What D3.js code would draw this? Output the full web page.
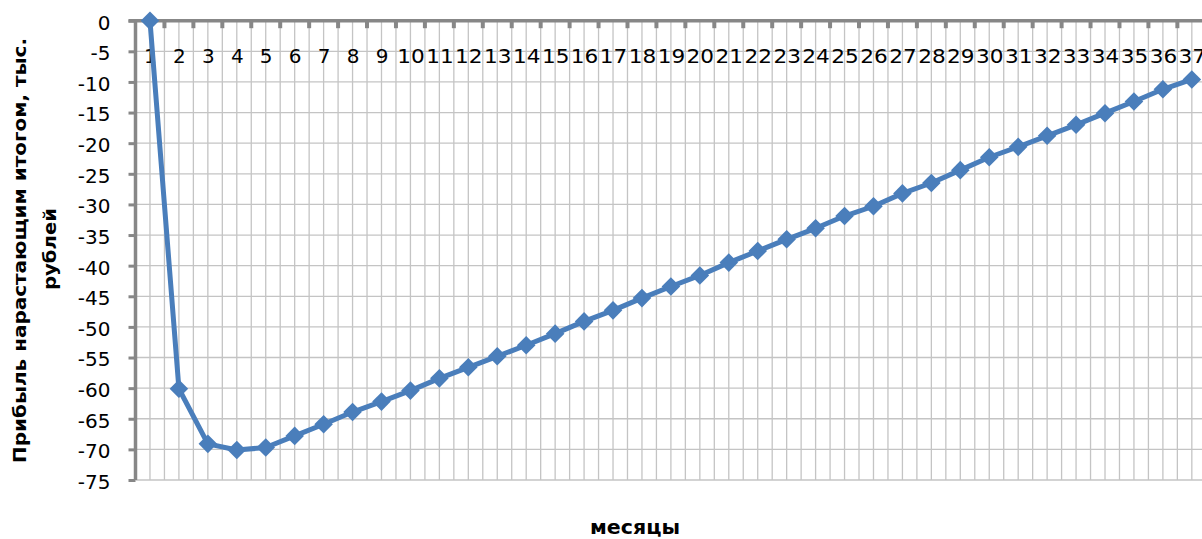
<!DOCTYPE html>
<html>
<head>
<meta charset="utf-8">
<script src="https://cdn.jsdelivr.net/npm/d3@7"></script>
<style>
  html, body { margin: 0; padding: 0; background: #fff; overflow: hidden; }
  svg { display: block; }
</style>
</head>
<body>
<svg id="chart" width="1202" height="539"></svg>
<script>
// Month numbers (categories)
const months = [1, 2, 3, 4, 5, 6, 7, 8, 9, 10, 11, 12, 13, 14, 15, 16, 17, 18, 19,
                20, 21, 22, 23, 24, 25, 26, 27, 28, 29, 30, 31, 32, 33, 34, 35, 36, 37];

// Cumulative profit, thousand roubles
const profit = [0, -60.1, -69.1, -70.1, -69.7, -67.8, -65.9, -63.9, -62.2, -60.4,
                -58.4, -56.6, -54.8, -53.0, -51.1, -49.1, -47.3, -45.3, -43.4, -41.6,
                -39.5, -37.6, -35.7, -33.9, -31.9, -30.3, -28.2, -26.5, -24.4, -22.3,
                -20.6, -18.8, -17.0, -15.1, -13.2, -11.2, -9.6];

// Value axis ticks
const yTicks = [0, -5, -10, -15, -20, -25, -30, -35, -40, -45, -50, -55, -60, -65, -70, -75];

const yTitleLines = ["Прибыль нарастающим итогом, тыс.", "рублей"];
const xTitle = "месяцы";

const svg = d3.select("#chart");

const plot = { left: 135.5, right: 1206.3, top: 20.7, bottom: 480 };

const x = d3.scaleBand()
  .domain(months)
  .range([plot.left, plot.right])
  .paddingInner(0).paddingOuter(0);
const bw = x.bandwidth();
const cx = d => x(d) + bw / 2;

const y = d3.scaleLinear()
  .domain([0, -75])
  .range([plot.top, plot.bottom]);

const gridColor = "#c4c4c4";
const axisColor = "#878787";
const seriesColor = "#4a7ebb";
const font = "'DejaVu Sans', sans-serif";

// Vertical gridlines at category boundaries and centres
const boundaries = months.map(m => x(m)).concat([plot.right]).slice(1);
const centres = months.map(cx);
const vLines = boundaries.concat(centres);

const grid = svg.append("g");
grid.selectAll("line.v")
  .data(vLines)
  .join("line")
  .attr("class", "v")
  .attr("x1", d => d).attr("x2", d => d)
  .attr("y1", plot.top).attr("y2", plot.bottom)
  .attr("stroke", gridColor)
  .attr("stroke-width", 1.3);

// Horizontal gridlines at every value tick
grid.selectAll("line.h")
  .data(yTicks.filter(t => t !== 0))
  .join("line")
  .attr("class", "h")
  .attr("x1", plot.left).attr("x2", 1202)
  .attr("y1", d => y(d)).attr("y2", d => y(d))
  .attr("stroke", gridColor)
  .attr("stroke-width", 1.3);

// Value axis (left)
const yAxis = d3.axisLeft(y)
  .tickValues(yTicks)
  .tickSize(7)
  .tickPadding(18)
  .tickFormat(d => String(d));

const gy = svg.append("g")
  .attr("transform", `translate(${plot.left},0)`)
  .call(yAxis);
gy.select(".domain")
  .attr("d", `M0,${plot.top}V${plot.bottom}`)
  .attr("stroke", axisColor)
  .attr("stroke-width", 3.5);
gy.selectAll(".tick line")
  .attr("stroke", axisColor)
  .attr("stroke-width", 3);
gy.selectAll(".tick text")
  .attr("font-family", font)
  .attr("font-size", 20)
  .attr("fill", "#000")
  .attr("dy", "0.42em");

// Category axis (top, crossing at zero) with labels below the line
const xAxis = d3.axisBottom(d3.scalePoint().domain(months).range([cx(months[0]), cx(months[months.length - 1])]))
  .tickSize(0)
  .tickPadding(28)
  .tickFormat(d => String(d));

const gx = svg.append("g")
  .attr("transform", `translate(0,${plot.top})`)
  .call(xAxis);
gx.select(".domain").remove();
gx.selectAll(".tick text")
  .attr("font-family", font)
  .attr("font-size", 20)
  .attr("fill", "#000")
  .each(function (d) {
    if (String(d).length > 1) {
      d3.select(this)
        .attr("textLength", 27.5)
        .attr("lengthAdjust", "spacingAndGlyphs");
    }
  });

// Axis line and tick marks between categories
svg.append("line")
  .attr("x1", plot.left - 7).attr("x2", 1202)
  .attr("y1", plot.top).attr("y2", plot.top)
  .attr("stroke", axisColor)
  .attr("stroke-width", 3.5);

svg.append("g").selectAll("line")
  .data(boundaries)
  .join("line")
  .attr("x1", d => d).attr("x2", d => d)
  .attr("y1", plot.top).attr("y2", plot.top + 7.5)
  .attr("stroke", axisColor)
  .attr("stroke-width", 4);

// Data line
const line = d3.line()
  .x((d, i) => cx(months[i]))
  .y(d => y(d));

svg.append("path")
  .datum(profit)
  .attr("d", line)
  .attr("fill", "none")
  .attr("stroke", seriesColor)
  .attr("stroke-width", 5)
  .attr("stroke-linejoin", "round");

// Diamond markers
const diamond = d3.symbol().type(d3.symbolDiamond2).size(220);
svg.append("g").selectAll("path")
  .data(profit)
  .join("path")
  .attr("d", diamond)
  .attr("transform", (d, i) => `translate(${cx(months[i])},${y(d)})`)
  .attr("fill", seriesColor);

// Axis titles
svg.append("text")
  .attr("transform", "translate(25.5,250.5) rotate(-90)")
  .attr("text-anchor", "middle")
  .attr("font-family", font)
  .attr("font-weight", "bold")
  .attr("font-size", 18)
  .attr("fill", "#000")
  .attr("textLength", 425)
  .attr("lengthAdjust", "spacingAndGlyphs")
  .text(yTitleLines[0]);

svg.append("text")
  .attr("transform", "translate(55.5,249) rotate(-90)")
  .attr("text-anchor", "middle")
  .attr("font-family", font)
  .attr("font-weight", "bold")
  .attr("font-size", 18)
  .attr("fill", "#000")
  .attr("textLength", 82)
  .attr("lengthAdjust", "spacingAndGlyphs")
  .text(yTitleLines[1]);

svg.append("text")
  .attr("x", 635)
  .attr("y", 534)
  .attr("text-anchor", "middle")
  .attr("font-family", font)
  .attr("font-weight", "bold")
  .attr("font-size", 19)
  .attr("fill", "#000")
  .attr("textLength", 90)
  .attr("lengthAdjust", "spacingAndGlyphs")
  .text(xTitle);
</script>
</body>
</html>
